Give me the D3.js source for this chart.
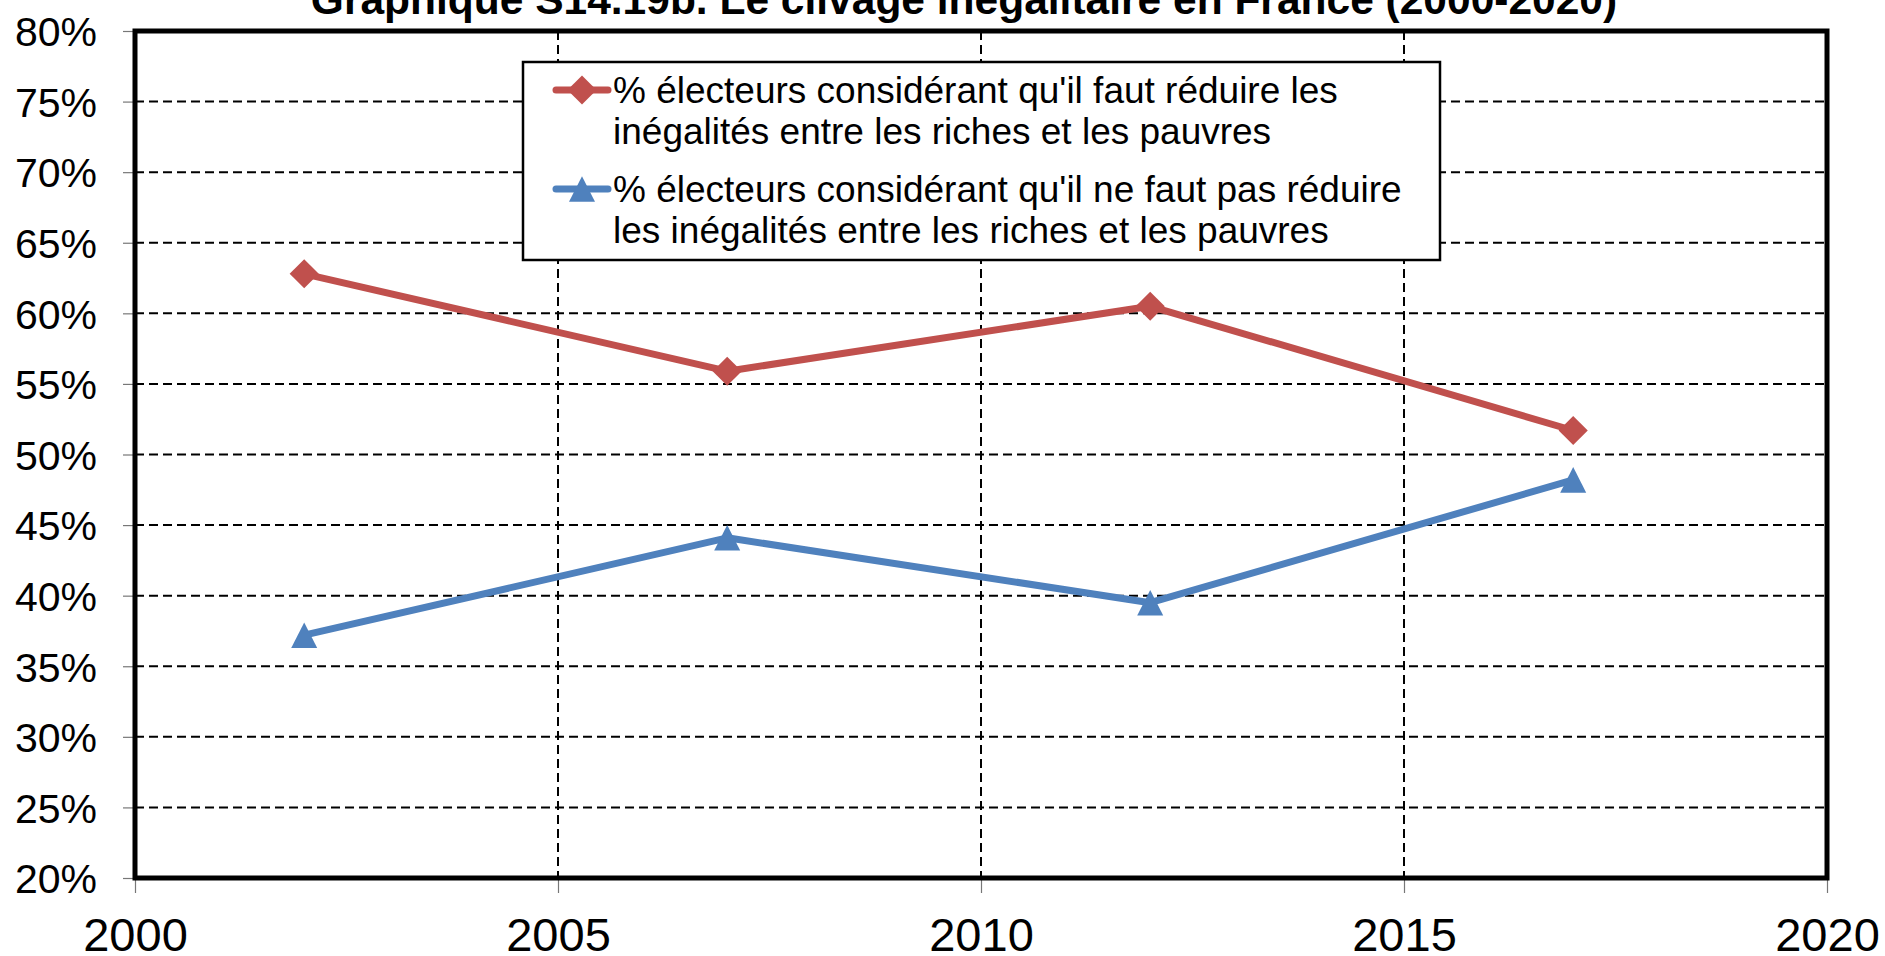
<!DOCTYPE html>
<html>
<head>
<meta charset="utf-8">
<script src="https://cdn.jsdelivr.net/npm/d3@7"></script>
<style>
  body { margin: 0; background: #fff; }
  svg { display: block; font-family: Arial, "Liberation Sans", sans-serif; }
</style>
</head>
<body>
<svg id="chart" width="1885" height="956"></svg>
<script>
const title = "Graphique S14.19b. Le clivage inégalitaire en France (2000-2020)";
const years = [2002, 2007, 2012, 2017];
const reduire = [62.8, 55.9, 60.5, 51.7];
const pasReduire = [37.2, 44.1, 39.5, 48.2];
const yTicks = [20, 25, 30, 35, 40, 45, 50, 55, 60, 65, 70, 75, 80];
const xTicks = [2000, 2005, 2010, 2015, 2020];
const legendLines = [
  ["% électeurs considérant qu'il faut réduire les", "inégalités entre les riches et les pauvres"],
  ["% électeurs considérant qu'il ne faut pas réduire", "les inégalités entre les riches et les pauvres"]
];
const red = "#c0504d", blue = "#4f81bd";

const svg = d3.select("#chart");
const pLeft = 135, pRight = 1827, pTop = 31, pBottom = 878;

const x = d3.scaleLinear().domain([2000, 2020]).range([pLeft, pRight]);
const y = d3.scaleLinear().domain([20, 80]).range([pBottom, pTop]);

// title (cut off at top like the original)
svg.append("text")
  .attr("x", 964).attr("y", 14)
  .attr("text-anchor", "middle")
  .attr("font-size", 42.5).attr("font-weight", "bold")
  .text(title);

// grid
const grid = svg.append("g");
grid.selectAll("line.h").data(yTicks.slice(1, -1)).join("line")
  .attr("x1", pLeft).attr("x2", pRight)
  .attr("y1", d => y(d)).attr("y2", d => y(d))
  .attr("stroke", "#000").attr("stroke-width", 2).attr("stroke-dasharray", "9,5");
grid.selectAll("line.v").data(xTicks.slice(1, -1)).join("line")
  .attr("x1", d => x(d)).attr("x2", d => x(d))
  .attr("y1", pTop).attr("y2", pBottom)
  .attr("stroke", "#000").attr("stroke-width", 2).attr("stroke-dasharray", "9,5");

// axes
const yAxis = svg.append("g").attr("transform", `translate(${pLeft},0)`)
  .call(d3.axisLeft(y).tickValues(yTicks).tickSize(12).tickFormat(d => d + "%"));
const xAxis = svg.append("g").attr("transform", `translate(0,${pBottom})`)
  .call(d3.axisBottom(x).tickValues(xTicks).tickSize(15).tickFormat(d3.format("d")));
[yAxis, xAxis].forEach(a => {
  a.select(".domain").remove();
  a.selectAll(".tick line").attr("stroke", "#777").attr("stroke-width", 1.2);
  a.selectAll(".tick text").attr("fill", "#000").attr("font-family", "Arial, 'Liberation Sans', sans-serif");
});
yAxis.selectAll(".tick text").attr("font-size", 41).attr("x", -38).attr("dy", "0.36em");
xAxis.selectAll(".tick text").attr("font-size", 47).attr("dy", "0.71em").attr("y", 40);

// frame
svg.append("rect")
  .attr("x", pLeft).attr("y", pTop)
  .attr("width", pRight - pLeft).attr("height", pBottom - pTop)
  .attr("fill", "none").attr("stroke", "#000").attr("stroke-width", 5);

// markers: diamond, and a triangle whose box is centred on the point (like Excel)
const diamond = d3.symbol().type(d3.symbolDiamond2).size(540)();
const triangle = "M0,-12.8L13,12.8L-13,12.8Z";

const line = d3.line().x(d => x(d[0])).y(d => y(d[1]));

function series(vals, color, sym) {
  const pts = years.map((yr, i) => [yr, vals[i]]);
  svg.append("path").attr("d", line(pts))
    .attr("fill", "none").attr("stroke", color).attr("stroke-width", 7)
    .attr("stroke-linejoin", "round");
  svg.selectAll(null).data(pts).join("path")
    .attr("d", sym)
    .attr("transform", d => `translate(${x(d[0])},${y(d[1])})`)
    .attr("fill", color);
}
series(reduire, red, diamond);
series(pasReduire, blue, triangle);

// legend
const lg = svg.append("g");
lg.append("rect").attr("x", 523).attr("y", 62).attr("width", 917).attr("height", 198)
  .attr("fill", "#fff").attr("stroke", "#000").attr("stroke-width", 2.5);
const entries = [
  { color: red, sym: diamond, lines: legendLines[0], cy: 90 },
  { color: blue, sym: triangle, lines: legendLines[1], cy: 189 }
];
entries.forEach(e => {
  lg.append("line").attr("x1", 556).attr("x2", 608).attr("y1", e.cy).attr("y2", e.cy)
    .attr("stroke", e.color).attr("stroke-width", 7).attr("stroke-linecap", "round");
  lg.append("path").attr("d", e.sym).attr("transform", `translate(582,${e.cy})`).attr("fill", e.color);
  e.lines.forEach((t, i) => {
    lg.append("text").attr("x", 613).attr("y", e.cy + 13 + i * 41)
      .attr("font-size", 37).text(t);
  });
});
</script>
</body>
</html>
